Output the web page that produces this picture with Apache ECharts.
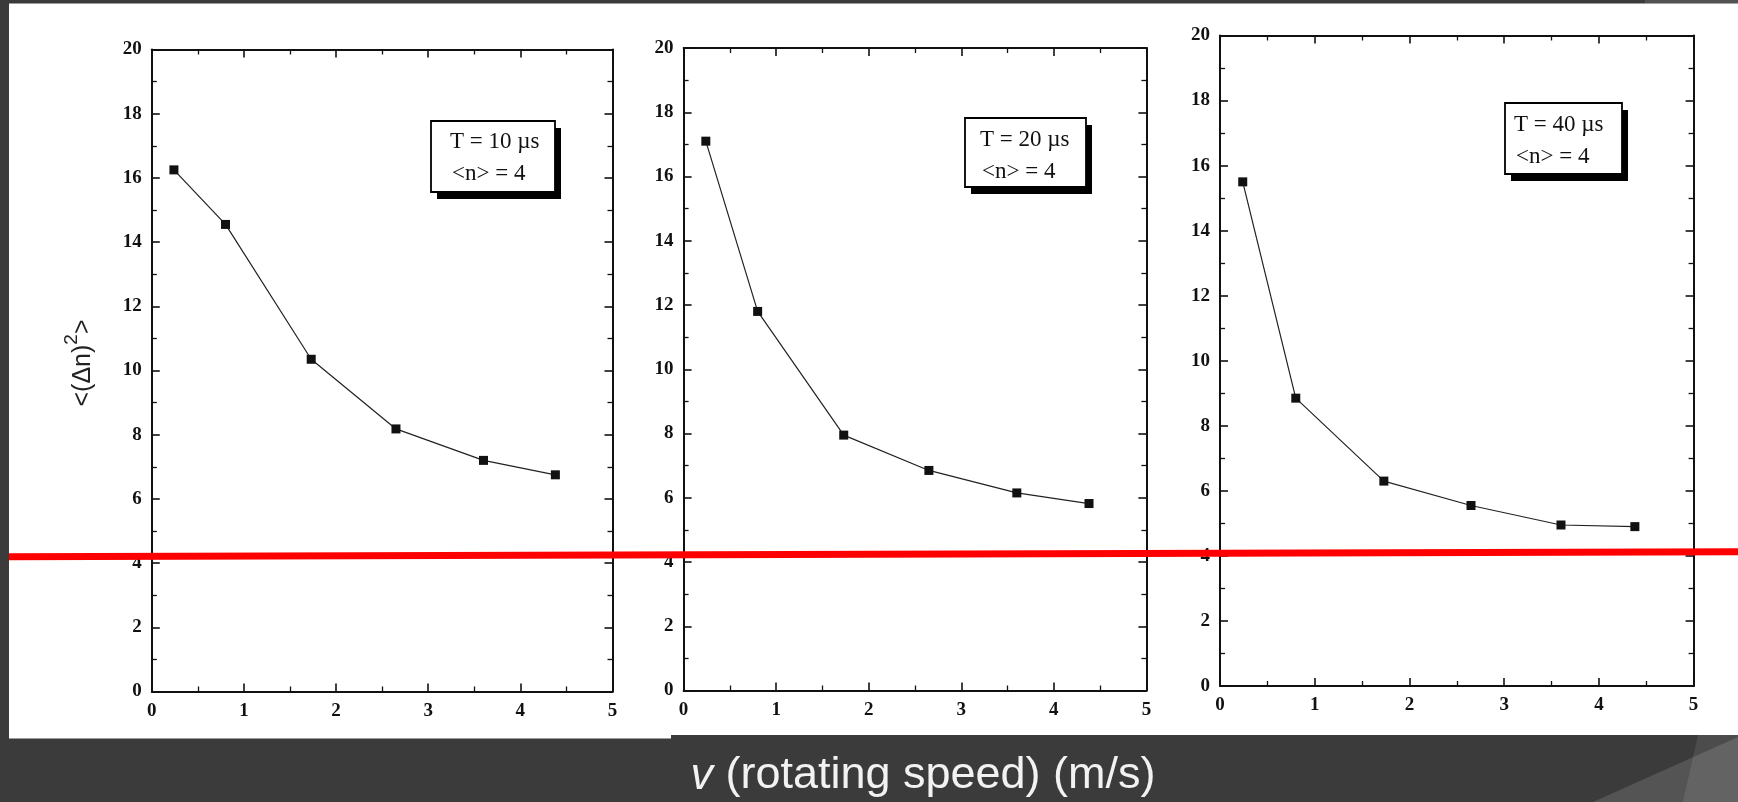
<!DOCTYPE html>
<html>
<head>
<meta charset="utf-8">
<script src="https://cdn.jsdelivr.net/npm/echarts@6/dist/echarts.min.js"></script>
<style>
html,body{margin:0;padding:0;background:#3b3b3b;}
#chart{width:1738px;height:802px;}
</style>
</head>
<body>
<div id="chart"></div>
<script>
// ---- data ----
const speeds = [0.24, 0.8, 1.73, 2.65, 3.6, 4.38];           // v (m/s)
const varT10 = [16.25, 14.55, 10.35, 8.18, 7.2, 6.75];        // T = 10 µs
const varT20 = [17.1, 11.8, 7.95, 6.85, 6.15, 5.82];          // T = 20 µs
const varT40 = [15.5, 8.85, 6.3, 5.55, 4.95, 4.9];            // T = 40 µs
const panelLabels = [["T = 10 µs", "<n> = 4"], ["T = 20 µs", "<n> = 4"], ["T = 40 µs", "<n> = 4"]];
const xTickLabels = ["0", "1", "2", "3", "4", "5"];
const yTickLabels = ["0", "2", "4", "6", "8", "10", "12", "14", "16", "18", "20"];
const yTitle = "<(Δn)";
const xTitle = "\u00a0(rotating speed) (m/s)";

const seriesData = [varT10, varT20, varT40];

const grids = [
  {left: 151.8, top: 49.5, width: 460.7, height: 642},
  {left: 683.6, top: 48, width: 462.8, height: 642.5},
  {left: 1220, top: 35.5, width: 473.6, height: 650.5}
];
const boxes = [
  {x: 431, y: 121, w: 124, h: 71, tx: 450, t1: 142, t2: 174},
  {x: 965, y: 118, w: 121, h: 69, tx: 980, t1: 140, t2: 172},
  {x: 1505, y: 103, w: 117, h: 71, tx: 1514, t1: 125, t2: 157}
];

const ink = '#111';
const labelFont = {fontFamily: 'Liberation Serif', fontWeight: 'bold', fontSize: 19, color: ink};

function axisCommon(showLabel, labels, step) {
  return {
    axisLine: {show: true, onZero: false, lineStyle: {color: ink, width: 2}},
    axisTick: {show: true, inside: true, length: 8, lineStyle: {color: ink, width: 1.6}},
    minorTick: {show: true, splitNumber: 2, length: 5, lineStyle: {color: ink, width: 1.3}},
    splitLine: {show: false},
    axisLabel: Object.assign({show: showLabel, margin: 10,
      formatter: v => labels[Math.round(v / step)]}, labelFont)
  };
}

const xAxes = [], yAxes = [], series = [];
grids.forEach((g, i) => {
  xAxes.push(Object.assign({type: 'value', gridIndex: i, position: 'bottom', min: 0, max: 5, interval: 1},
    axisCommon(true, xTickLabels, 1)));
  xAxes.push(Object.assign({type: 'value', gridIndex: i, position: 'top', min: 0, max: 5, interval: 1},
    axisCommon(false, xTickLabels, 1)));
  yAxes.push(Object.assign({type: 'value', gridIndex: i, position: 'left', min: 0, max: 20, interval: 2},
    axisCommon(true, yTickLabels, 2)));
  yAxes.push(Object.assign({type: 'value', gridIndex: i, position: 'right', min: 0, max: 20, interval: 2},
    axisCommon(false, yTickLabels, 2)));
  series.push({
    type: 'line', xAxisIndex: i * 2, yAxisIndex: i * 2,
    data: speeds.map((x, j) => [x, seriesData[i][j]]),
    symbol: 'rect', symbolSize: 9,
    itemStyle: {color: ink},
    lineStyle: {color: '#222', width: 1.2},
    animation: false
  });
});

const graphics = [
  // slide white picture area
  {type: 'rect', z: -10, shape: {x: 9, y: 3.5, width: 1729, height: 731.5}, style: {fill: '#ffffff'}},
  {type: 'rect', z: -10, shape: {x: 9, y: 734, width: 662, height: 4.5}, style: {fill: '#ffffff'}},
  // slide decoration bottom right
  {type: 'polygon', z: -9, shape: {points: [[1698, 735], [1738, 735], [1738, 802], [1683, 802]]}, style: {fill: 'rgba(255,255,255,0.09)'}},
  {type: 'polygon', z: -9, shape: {points: [[1593, 802], [1738, 737], [1738, 802]]}, style: {fill: 'rgba(255,255,255,0.13)'}},
  {type: 'rect', z: -9, shape: {x: 1645, y: 0, width: 93, height: 3.5}, style: {fill: 'rgba(255,255,255,0.12)'}},
  // y axis title
  {type: 'text', z: 50, x: 79, y: 363, rotation: Math.PI / 2,
    style: {text: '{a|' + yTitle + '}{b|2}{a|>}', align: 'center', verticalAlign: 'middle',
      rich: {a: {fontFamily: 'Liberation Sans', fontSize: 25, fill: '#222', verticalAlign: 'bottom', lineHeight: 34},
             b: {fontFamily: 'Liberation Sans', fontSize: 19, fill: '#222', verticalAlign: 'top', lineHeight: 19}}}},
  // x axis title on dark band
  {type: 'text', z: 50, x: 923, y: 776,
    style: {text: '{i|v}{n|' + xTitle + '}', align: 'center', verticalAlign: 'middle',
      rich: {i: {fontFamily: 'Liberation Sans', fontStyle: 'italic', fontSize: 45, fill: '#f2f2f2'},
             n: {fontFamily: 'Liberation Sans', fontSize: 45, fill: '#f2f2f2'}}}},
  // red annotation line
  {type: 'line', z: 100, shape: {x1: 9, y1: 556.7, x2: 1738, y2: 551.7}, style: {stroke: '#ff0000', lineWidth: 7}}
];

boxes.forEach((b, i) => {
  graphics.push({type: 'rect', z: 40, shape: {x: b.x + 6, y: b.y + 7, width: b.w, height: b.h}, style: {fill: '#000'}});
  graphics.push({type: 'rect', z: 41, shape: {x: b.x, y: b.y, width: b.w, height: b.h}, style: {fill: '#fff', stroke: '#000', lineWidth: 1.8}});
  graphics.push({type: 'text', z: 42, x: b.tx, y: b.t1, style: {text: panelLabels[i][0], fontFamily: 'Liberation Serif', fontSize: 23, fill: '#111', verticalAlign: 'middle'}});
  graphics.push({type: 'text', z: 42, x: b.tx + 2, y: b.t2, style: {text: panelLabels[i][1], fontFamily: 'Liberation Serif', fontSize: 23, fill: '#111', verticalAlign: 'middle'}});
});

const chart = echarts.init(document.getElementById('chart'), null, {renderer: 'canvas'});
chart.setOption({
  backgroundColor: '#3b3b3b',
  animation: false,
  grid: grids.map(g => Object.assign({containLabel: false}, g)),
  xAxis: xAxes,
  yAxis: yAxes,
  series: series,
  graphic: graphics
});
</script>
</body>
</html>
